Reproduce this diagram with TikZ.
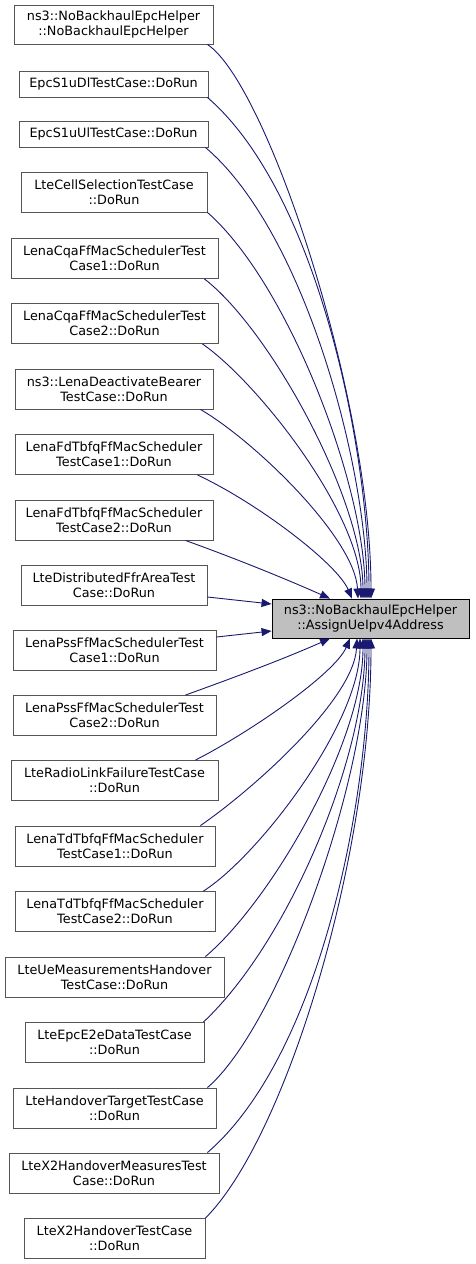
\documentclass[tikz,border=0pt]{standalone}
\usepackage{fontspec}
\setmainfont{DejaVu Sans}
\usepackage{tikz}
\usetikzlibrary{arrows.meta,positioning}
\usepackage{xcolor}
\definecolor{edgeblue}{HTML}{191970}
\definecolor{boxline}{HTML}{555555}
\definecolor{hilite}{HTML}{BFBFBF}

\begin{document}
\begin{tikzpicture}[
  x=1pt, y=-1pt,
  box/.style={draw=boxline, line width=0.9pt, fill=white, inner sep=0pt, minimum height=40pt, align=center, font=\fontsize{12.8}{15.3}\selectfont},
  arrow/.style={draw=edgeblue, line width=0.9pt, -{Triangle[length=10pt,width=8pt]}},
]
\useasboundingbox (0,0) rectangle (475,1264);

% 呼び出し元
\node[box, minimum width=199pt, minimum height=39pt] (helper) at (113.5,24.5) {ns3::NoBackhaulEpcHelper\\::NoBackhaulEpcHelper};
\node[box, minimum width=189pt, minimum height=26pt] (s1udl) at (113.5,84) {EpcS1uDlTestCase::DoRun};
\node[box, minimum width=189pt, minimum height=26pt] (s1uul) at (113.5,134) {EpcS1uUlTestCase::DoRun};
\node[box, minimum width=186pt] (cellsel) at (114,192) {LteCellSelectionTestCase\\::DoRun};
\node[box, minimum width=207pt] (cqa1) at (114.5,258.5) {LenaCqaFfMacSchedulerTest\\Case1::DoRun};
\node[box, minimum width=207pt] (cqa2) at (114.5,323.5) {LenaCqaFfMacSchedulerTest\\Case2::DoRun};
\node[box, minimum width=198pt] (deact) at (114,389) {ns3::LenaDeactivateBearer\\TestCase::DoRun};
\node[box, minimum width=198pt] (fdtb1) at (114,454.5) {LenaFdTbfqFfMacScheduler\\TestCase1::DoRun};
\node[box, minimum width=198pt] (fdtb2) at (114,520) {LenaFdTbfqFfMacScheduler\\TestCase2::DoRun};
\node[box, minimum width=186pt] (ffr) at (114,585) {LteDistributedFfrAreaTest\\Case::DoRun};
\node[box, minimum width=203pt] (pss1) at (114.5,650.5) {LenaPssFfMacSchedulerTest\\Case1::DoRun};
\node[box, minimum width=203pt] (pss2) at (114.5,715.5) {LenaPssFfMacSchedulerTest\\Case2::DoRun};
\node[box, minimum width=207pt] (rlf) at (114.5,780.5) {LteRadioLinkFailureTestCase\\::DoRun};
\node[box, minimum width=200pt] (tdtb1) at (115,846) {LenaTdTbfqFfMacScheduler\\TestCase1::DoRun};
\node[box, minimum width=200pt] (tdtb2) at (115,911.5) {LenaTdTbfqFfMacScheduler\\TestCase2::DoRun};
\node[box, minimum width=219pt] (uemeas) at (114.5,977) {LteUeMeasurementsHandover\\TestCase::DoRun};
\node[box, minimum width=179pt] (e2e) at (114.5,1042.5) {LteEpcE2eDataTestCase\\::DoRun};
\node[box, minimum width=203pt] (hotarget) at (114.5,1108) {LteHandoverTargetTestCase\\::DoRun};
\node[box, minimum width=210pt] (x2meas) at (114,1173) {LteX2HandoverMeasuresTest\\Case::DoRun};
\node[box, minimum width=181pt] (x2ho) at (114.5,1238.5) {LteX2HandoverTestCase\\::DoRun};

% 呼び出し先
\node[box, draw=black, fill=hilite, minimum width=197pt, minimum height=39pt] (assign) at (370.5,618.5) {ns3::NoBackhaulEpcHelper\\::AssignUeIpv4Address};

% 矢印（上側）
\draw[arrow] ([xshift=-6pt]helper.south east) .. controls +(60,40) and +(0,-200) .. ([xshift=0.5pt]assign.north);
\draw[arrow] ([xshift=-1pt]s1udl.south east) .. controls +(110,95) and +(0,-150) .. ([xshift=-1.5pt]assign.north);
\draw[arrow] ([xshift=-3pt]s1uul.south east) .. controls +(100,85) and +(0,-130) .. ([xshift=-3.5pt]assign.north);
\draw[arrow] (cellsel.south east) .. controls +(80,70) and +(0,-115) .. ([xshift=-5.5pt]assign.north);
\draw[arrow] ([xshift=-14pt]cqa1.south east) .. controls +(65,50) and +(0,-100) .. ([xshift=-7.5pt]assign.north);
\draw[arrow] ([xshift=-16pt]cqa2.south east) .. controls +(55,38) and +(0,-85) .. ([xshift=-9.5pt]assign.north);
\draw[arrow] ([xshift=-13pt]deact.south east) .. controls +(55,32) and +(-3,-60) .. ([xshift=-12.5pt]assign.north);
\draw[arrow] ([xshift=-16pt]fdtb1.south east) .. controls +(60,28) and +(-15,-35) .. ([xshift=-18.5pt]assign.north);
\draw[arrow] ([xshift=-28pt]fdtb2.south east) .. controls +(50,18) and +(-45,-20) .. ([xshift=-40.5pt]assign.north);

% 矢印（横）
\draw[arrow] ([yshift=-12pt]ffr.east) -- ([yshift=14.5pt]assign.west);
\draw[arrow] ([yshift=13.5pt]pss1.east) -- ([yshift=-12.5pt]assign.west);

% 矢印（下側）
\draw[arrow] ([xshift=-31pt]pss2.north east) .. controls +(50,-18) and +(-45,20) .. ([xshift=-40.5pt]assign.south);
\draw[arrow] ([xshift=-23pt]rlf.north east) .. controls +(55,-28) and +(-15,35) .. ([xshift=-20.5pt]assign.south);
\draw[arrow] ([xshift=-15pt]tdtb1.north east) .. controls +(55,-38) and +(-3,60) .. ([xshift=-13.5pt]assign.south);
\draw[arrow] ([xshift=-12pt]tdtb2.north east) .. controls +(55,-35) and +(0,85) .. ([xshift=-10.5pt]assign.south);
\draw[arrow] ([xshift=-19pt]uemeas.north east) .. controls +(65,-55) and +(0,105) .. ([xshift=-7.5pt]assign.south);
\draw[arrow] ([xshift=-1pt]e2e.north east) .. controls +(85,-80) and +(0,120) .. ([xshift=-5.5pt]assign.south);
\draw[arrow] ([xshift=-9pt]hotarget.north east) .. controls +(70,-60) and +(0,145) .. ([xshift=-3.5pt]assign.south);
\draw[arrow] ([xshift=-12pt]x2meas.north east) .. controls +(110,-95) and +(0,170) .. ([xshift=-1.5pt]assign.south);
\draw[arrow] (x2ho.north east) .. controls +(80,-80) and +(0,220) .. ([xshift=0.5pt]assign.south);

\end{tikzpicture}
\end{document}
